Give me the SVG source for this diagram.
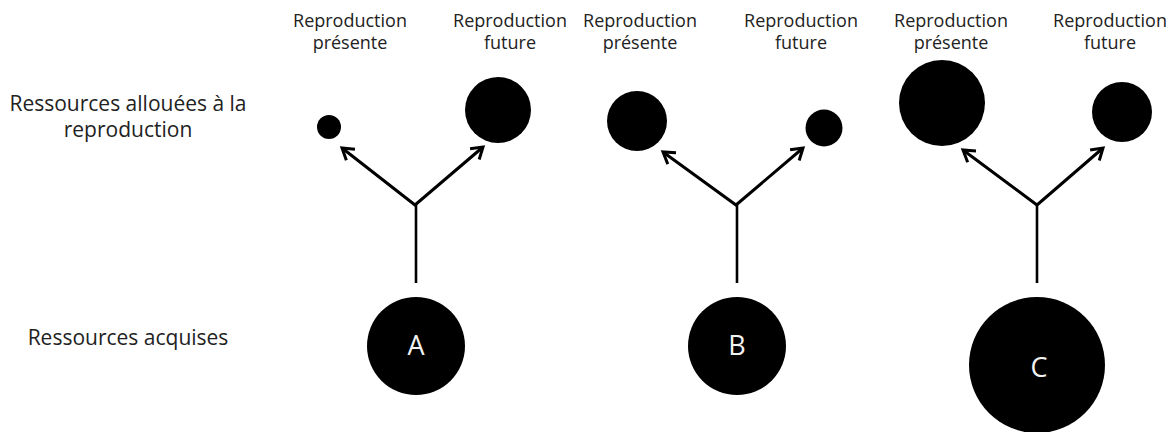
<svg xmlns="http://www.w3.org/2000/svg" width="1175" height="432" viewBox="0 0 1175 432">
<style>
.lbl{font-family:"Open Sans","Noto Sans",sans-serif;fill:#222;text-anchor:middle}
.top{font-size:18px}
.side{font-size:21px}
.dot{fill:#000}
.let{font-family:"Open Sans","Liberation Sans",sans-serif;font-size:27px;fill:#f2f2f2;text-anchor:middle}
.con{stroke:#000;stroke-width:3;fill:none}
.stem{stroke:#000;stroke-width:2.6;fill:none}
</style>
<defs>
<marker id="arr" markerUnits="userSpaceOnUse" viewBox="-14 -10 18 20" markerWidth="18" markerHeight="20" refX="0" refY="0" orient="auto-start-reverse">
<path d="M-11,-7 L0,0 L-11,7" fill="none" stroke="#000" stroke-width="3"/>
</marker>
</defs>
<rect width="1175" height="432" fill="#fff"/>
<g id="side-labels">
<text class="lbl side" x="128" y="111">Ressources allouées à la</text>
<text class="lbl side" x="128" y="137">reproduction</text>
<text class="lbl side" x="128" y="345">Ressources acquises</text>
</g>
<g id="top-labels">
<text class="lbl top" x="350" y="27">Reproduction</text>
<text class="lbl top" x="350" y="49">présente</text>
<text class="lbl top" x="510" y="27">Reproduction</text>
<text class="lbl top" x="510" y="49">future</text>
<text class="lbl top" x="640" y="27">Reproduction</text>
<text class="lbl top" x="640" y="49">présente</text>
<text class="lbl top" x="801" y="27">Reproduction</text>
<text class="lbl top" x="801" y="49">future</text>
<text class="lbl top" x="951" y="27">Reproduction</text>
<text class="lbl top" x="951" y="49">présente</text>
<text class="lbl top" x="1110" y="27">Reproduction</text>
<text class="lbl top" x="1110" y="49">future</text>
</g>
<g id="connectors">
<line class="stem" x1="416" y1="205" x2="416" y2="283"/>
<polyline class="con" points="342,148 415,205 483,147" marker-start="url(#arr)" marker-end="url(#arr)"/>
<line class="stem" x1="737" y1="205" x2="737" y2="283"/>
<polyline class="con" points="663,152 736,205 803,148" marker-start="url(#arr)" marker-end="url(#arr)"/>
<line class="stem" x1="1037" y1="205" x2="1037" y2="283"/>
<polyline class="con" points="963,150 1037,205 1103,148" marker-start="url(#arr)" marker-end="url(#arr)"/>
</g>
<g id="node-A">
<circle class="dot" cx="416" cy="346" r="49"/>
<text class="let" x="416" y="355">A</text>
</g>
<g id="node-A-present"><circle class="dot" cx="329" cy="127" r="12"/></g>
<g id="node-A-future"><circle class="dot" cx="498" cy="110" r="33"/></g>
<g id="node-B">
<circle class="dot" cx="737" cy="346" r="49"/>
<text class="let" x="737" y="355">B</text>
</g>
<g id="node-B-present"><circle class="dot" cx="637" cy="121" r="30"/></g>
<g id="node-B-future"><circle class="dot" cx="824" cy="128" r="18.5"/></g>
<g id="node-C">
<circle class="dot" cx="1037" cy="365" r="68"/>
<text class="let" x="1039" y="377">C</text>
</g>
<g id="node-C-present"><circle class="dot" cx="942" cy="103" r="43"/></g>
<g id="node-C-future"><circle class="dot" cx="1122" cy="112" r="30"/></g>
</svg>
